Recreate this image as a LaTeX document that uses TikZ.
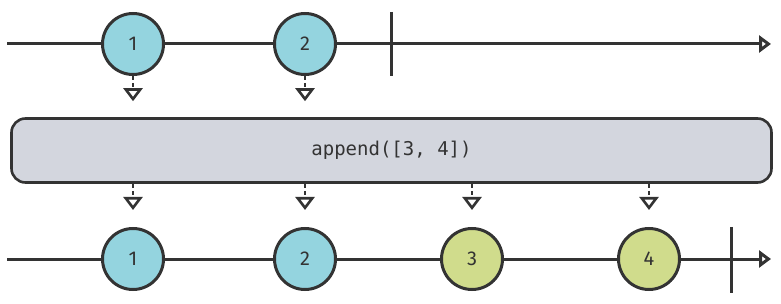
\documentclass[tikz,border=0pt]{standalone}
\usepackage{fontspec}
\setmainfont{Fira Sans}
\setmonofont{DejaVu Sans Mono}
\usetikzlibrary{arrows.meta,calc,positioning}
\definecolor{inkgray}{HTML}{333333}
\definecolor{marbleblue}{HTML}{94D4DF}
\definecolor{marblegreen}{HTML}{D0DC8C}
\definecolor{opgray}{HTML}{D3D6DE}
\tikzset{
  timeline/.style={line width=3pt, draw=inkgray,
    -{Triangle[open, length=12pt, width=17pt, line width=3pt]}},
  marble/.style={circle, draw=inkgray, line width=3pt, minimum size=61pt,
    inner sep=0pt, text=inkgray, font=\fontsize{20}{20}\selectfont},
  stopbar/.style={line width=3pt, draw=inkgray},
  dropline/.style={line width=2.6pt, draw=inkgray, dash pattern=on 4pt off 3pt,
    -{Triangle[open, length=13pt, width=19pt, line width=2.6pt, sep=0pt]}},
  opbox/.style={rectangle, rounded corners=14pt, draw=inkgray, fill=opgray,
    line width=2.6pt, minimum width=760pt, minimum height=64pt, text=inkgray,
    font=\ttfamily\fontsize{19}{19}\selectfont},
}
\begin{document}
\begin{tikzpicture}[x=1pt, y=-1pt]
    \useasboundingbox (0,0) rectangle (781,304);
    % source timeline
    \coordinate (srcstart) at (7,44);
    \coordinate (srcend) at (771,44);
    \draw[timeline] (srcstart) -- (srcend);
    \draw[stopbar] (391,12) -- (391,76);
    \node[marble, fill=marbleblue] (s1) at (133,44) {1};
    \node[marble, fill=marbleblue] (s2) at (305,44) {2};
    % operator
    \node[opbox] (op) at (391.5,150.5) {append([3, 4])};
    % result timeline
    \coordinate (resstart) at (7,259);
    \coordinate (resend) at (771,259);
    \draw[timeline] (resstart) -- (resend);
    \draw[stopbar] (731,227) -- (731,293);
    \node[marble, fill=marbleblue] (r1) at (133,259) {1};
    \node[marble, fill=marbleblue] (r2) at (305,259) {2};
    \node[marble, fill=marblegreen] (r3) at (472,259) {3};
    \node[marble, fill=marblegreen] (r4) at (649,259) {4};
    % drops into the operator
    \foreach \m in {s1,s2}
      \draw[dropline, shorten >=16pt] (\m.south) -- (\m.south |- op.north);
    % drops out of the operator
    \foreach \m in {r1,r2,r3,r4}
      \draw[dropline, shorten >=17pt] (op.south -| \m.north) -- (\m.north);
\end{tikzpicture}
\end{document}
